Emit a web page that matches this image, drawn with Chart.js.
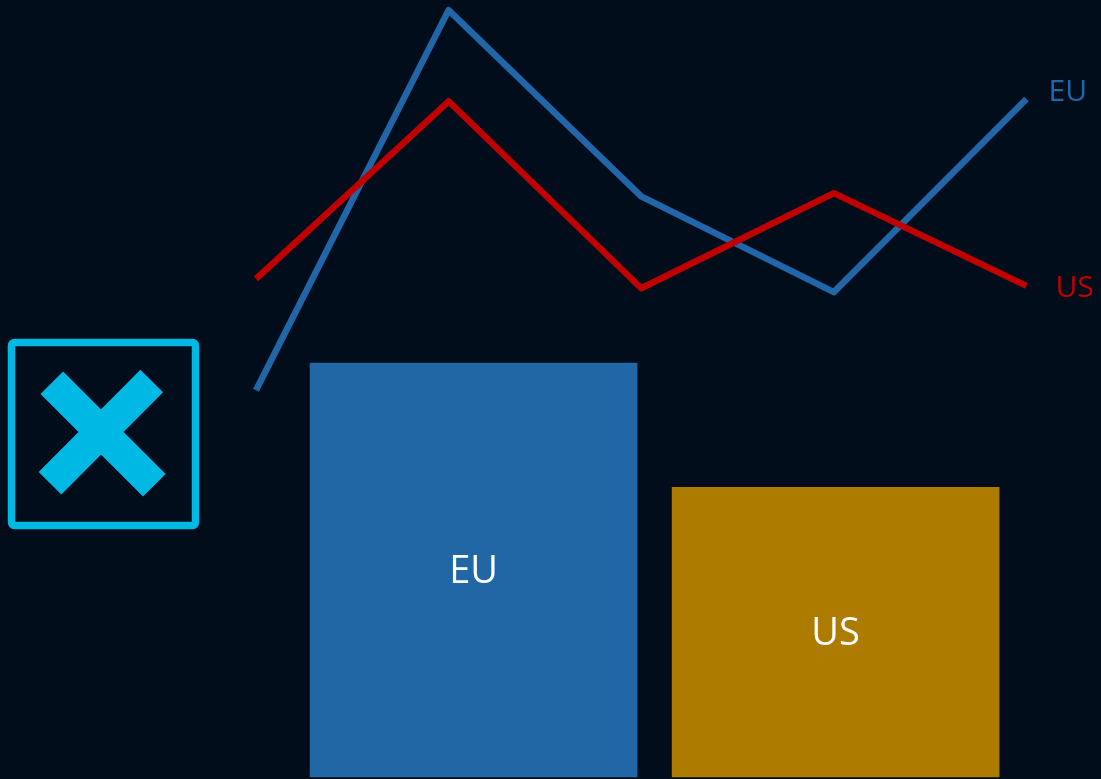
<!DOCTYPE html>
<html>
<head>
<meta charset="utf-8">
<script src="https://cdn.jsdelivr.net/npm/chart.js@4/dist/chart.umd.min.js"></script>
<style>
  html, body { margin: 0; padding: 0; background: #010d1a; }
  #wrap { width: 1101px; height: 779px; }
</style>
</head>
<body>
<div id="wrap"><canvas id="c" width="1101" height="779"></canvas></div>
<script>
// Trend lines (index values per period)
const periods = [0, 1, 2, 3, 4];
const euTrend = [49.9, 98.7, 74.8, 62.5, 87.3];
const usTrend = [64.2, 87.0, 63.0, 75.2, 63.3];

// Bar comparison
const regions = ['EU', 'US'];
const regionValues = [100, 70];

const COLORS = {
  bg: '#010d1a',
  euLine: '#2166a8',
  usLine: '#c00000',
  euBar: '#2166a5',
  usBar: '#ad7b00',
  icon: '#00b8e4',
  text: '#ffffff'
};
const FONT = '"Open Sans", "DejaVu Sans", sans-serif';

const toPts = (xs, ys) => xs.map((x, i) => ({ x, y: ys[i] }));

// Background, the "cancel" badge, and the text labels
const decor = {
  id: 'decor',
  beforeDraw(chart) {
    const { ctx, width, height } = chart;
    ctx.save();
    ctx.fillStyle = COLORS.bg;
    ctx.fillRect(0, 0, width, height);

    // framed X badge
    ctx.strokeStyle = COLORS.icon;
    ctx.lineWidth = 7.5;
    ctx.lineJoin = 'round';
    ctx.beginPath();
    if (ctx.roundRect) ctx.roundRect(11.5, 342.5, 184, 183, 3);
    else ctx.rect(11.5, 342.5, 184, 183);
    ctx.stroke();

    ctx.lineWidth = 32;
    ctx.lineCap = 'butt';
    ctx.beginPath();
    ctx.moveTo(51.8, 382.8); ctx.lineTo(154.3, 485.3);
    ctx.moveTo(151.7, 381.0); ctx.lineTo(50.0, 483.3);
    ctx.stroke();
    ctx.restore();
  },
  afterDatasetsDraw(chart) {
    const { ctx } = chart;
    ctx.save();
    ctx.textBaseline = 'middle';

    // series names at the end of each line
    const ends = [
      { ds: 0, text: 'US', color: COLORS.usLine, dx: 29, dy: 3 },
      { ds: 1, text: 'EU', color: COLORS.euLine, dx: 22, dy: -6 }
    ];
    ctx.font = '400 30px ' + FONT;
    ctx.textAlign = 'left';
    ends.forEach(e => {
      const pts = chart.getDatasetMeta(e.ds).data;
      const p = pts[pts.length - 1];
      ctx.fillStyle = e.color;
      ctx.fillText(e.text, p.x + e.dx, p.y + e.dy);
    });

    // category names centred in the bars
    const bars = chart.getDatasetMeta(2).data;
    ctx.font = '400 38px ' + FONT;
    ctx.textAlign = 'center';
    ctx.fillStyle = COLORS.text;
    bars.forEach((b, i) => {
      ctx.fillText(regions[i], b.x, (b.y + b.base) / 2 + 2);
    });
    ctx.restore();
  }
};

new Chart(document.getElementById('c'), {
  data: {
    datasets: [
      {
        type: 'line',
        label: 'US',
        data: toPts(periods, usTrend),
        xAxisID: 'x',
        yAxisID: 'yLine',
        borderColor: COLORS.usLine,
        borderWidth: 6.5,
        borderJoinStyle: 'round',
        borderCapStyle: 'butt',
        pointRadius: 0,
        tension: 0,
        fill: false,
        order: 0
      },
      {
        type: 'line',
        label: 'EU',
        data: toPts(periods, euTrend),
        xAxisID: 'x',
        yAxisID: 'yLine',
        borderColor: COLORS.euLine,
        borderWidth: 6.5,
        borderJoinStyle: 'round',
        borderCapStyle: 'butt',
        pointRadius: 0,
        tension: 0,
        fill: false,
        order: 1
      },
      {
        type: 'bar',
        label: 'Regions',
        data: regions.map((r, i) => ({ x: i, y: regionValues[i] })),
        xAxisID: 'xBar',
        yAxisID: 'yBar',
        backgroundColor: [COLORS.euBar, COLORS.usBar],
        borderWidth: 0,
        barThickness: 327,
        grouped: false,
        order: 2
      }
    ]
  },
  options: {
    responsive: false,
    animation: false,
    layout: { padding: 0 },
    plugins: { legend: { display: false }, tooltip: { enabled: false } },
    scales: {
      x: { type: 'linear', display: false, offset: false, min: -1.329, max: 4.387 },
      yLine: { type: 'linear', display: false, min: 0, max: 100 },
      xBar: { type: 'linear', display: false, offset: false, grid: { offset: false }, min: -1.308, max: 1.733 },
      yBar: { type: 'linear', display: false, min: -0.48, max: 187.7 }
    }
  },
  plugins: [decor]
});
</script>
</body>
</html>
